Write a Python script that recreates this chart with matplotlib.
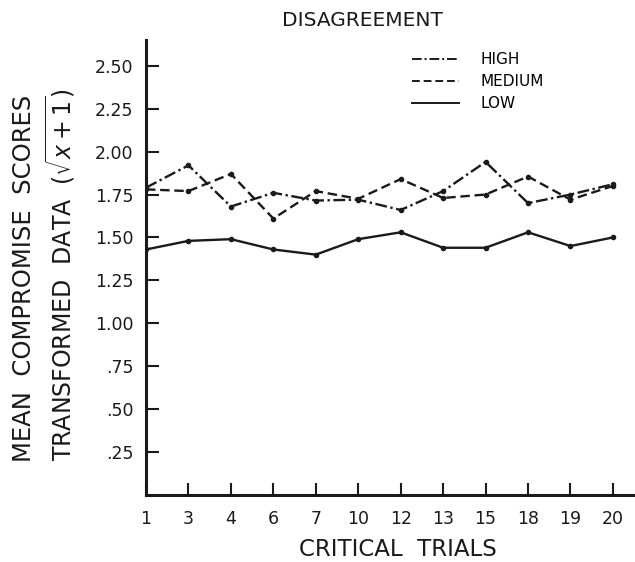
import numpy as np
import matplotlib.pyplot as plt
from matplotlib.lines import Line2D

# Données
essais = ['1', '3', '4', '6', '7', '10', '12', '13', '15', '18', '19', '20']
high = [1.79, 1.92, 1.68, 1.76, 1.715, 1.72, 1.66, 1.77, 1.94, 1.70, 1.75, 1.81]
medium = [1.78, 1.77, 1.87, 1.61, 1.77, 1.725, 1.84, 1.73, 1.75, 1.855, 1.72, 1.80]
low = [1.43, 1.48, 1.49, 1.43, 1.40, 1.49, 1.53, 1.44, 1.44, 1.53, 1.45, 1.50]
y_ticks = [0.25, 0.50, 0.75, 1.00, 1.25, 1.50, 1.75, 2.00, 2.25, 2.50]
y_labels = ['.25', '.50', '.75', '1.00', '1.25', '1.50', '1.75', '2.00', '2.25', '2.50']

plt.rcParams['font.family'] = ['DejaVu Sans']
noir = '#1a1a1a'

# styles des trois courbes
styles = {
    'HIGH': (0, (5, 1.5, 1, 1.5)),
    'MEDIUM': (0, (4, 2)),
    'LOW': '-',
}

fig = plt.figure(figsize=(6.35, 5.62), dpi=100)
ax = fig.add_axes([146 / 635, 67 / 562, 489 / 635, 455 / 562])

x = np.arange(len(essais))
for nom, serie in [('HIGH', high), ('MEDIUM', medium), ('LOW', low)]:
    ax.plot(x, serie, color=noir, lw=1.7, linestyle=styles[nom],
            marker='o', ms=3)

ax.set_xlim(0, 11.52)
ax.set_ylim(0, 2.65)
ax.set_xticks(x)
ax.set_xticklabels(essais)
ax.set_yticks(y_ticks)
ax.set_yticklabels(y_labels)

for s in ['top', 'right']:
    ax.spines[s].set_visible(False)
for s in ['left', 'bottom']:
    ax.spines[s].set_linewidth(2.2)
    ax.spines[s].set_color(noir)

ax.tick_params(axis='both', direction='in', length=9, width=1.5, colors=noir,
               labelsize=12.5, labelcolor=noir)
ax.tick_params(axis='x', pad=11)
ax.tick_params(axis='y', pad=9)

# légende sans marqueurs
poignees = [Line2D([], [], color=noir, lw=1.4, linestyle=styles[n]) for n in styles]
ax.legend(poignees, list(styles), loc='upper left', bbox_to_anchor=(0.544, 0.973),
          frameon=False, fontsize=11, handlelength=3.1, handletextpad=1.4,
          labelspacing=0.45, borderpad=0, borderaxespad=0)

fig.text(362 / 635, 1 - 20 / 562, 'DISAGREEMENT', ha='center', va='center',
         fontsize=14.5, color=noir)
fig.text(398 / 635, 1 - 550 / 562, 'CRITICAL  TRIALS', ha='center',
         va='center', fontsize=16.5, color=noir)
fig.text(24 / 635, 1 - 278 / 562, 'MEAN  COMPROMISE  SCORES', rotation=90,
         ha='center', va='center', fontsize=17.5, color=noir)
fig.text(60 / 635, 1 - 275 / 562, r'TRANSFORMED  DATA  ($\sqrt{x+1}$)',
         rotation=90, ha='center', va='center', fontsize=17, color=noir)

fig.savefig('out.png', dpi=100, facecolor='white')
